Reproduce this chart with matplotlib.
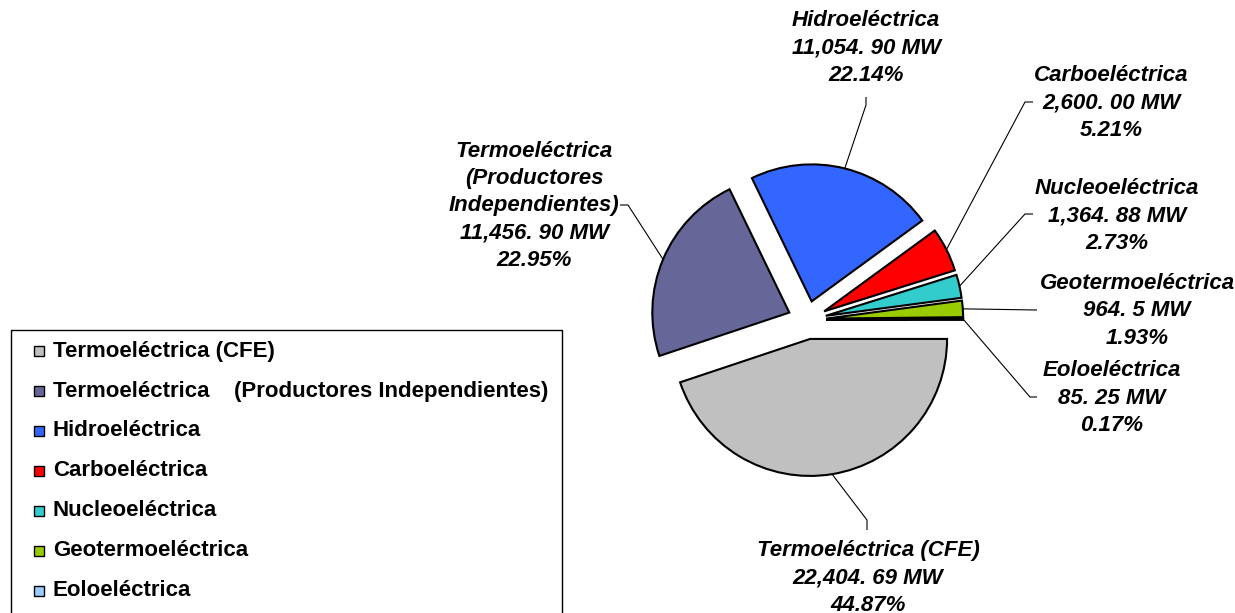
import numpy as np
import matplotlib
matplotlib.use('Agg')
import matplotlib.pyplot as plt
from matplotlib.patches import Rectangle

plt.rcParams['font.family'] = ['Liberation Sans', 'DejaVu Sans']

# data
names = ['Termoeléctrica (CFE)', 'Termoeléctrica    (Productores Independientes)',
         'Hidroeléctrica', 'Carboeléctrica', 'Nucleoeléctrica',
         'Geotermoeléctrica', 'Eoloeléctrica']
label_names = ['Termoeléctrica (CFE)', 'Termoeléctrica\n(Productores\nIndependientes)',
               'Hidroeléctrica', 'Carboeléctrica', 'Nucleoeléctrica',
               'Geotermoeléctrica', 'Eoloeléctrica']
mw = [22404.69, 11456.90, 11054.90, 2600.00, 1364.88, 964.5, 85.25]
mw_labels = ['22,404. 69 MW', '11,456. 90 MW', '11,054. 90 MW', '2,600. 00 MW',
             '1,364. 88 MW', '964. 5 MW', '85. 25 MW']
colors = ['#C0C0C0', '#666699', '#3366FF', '#FF0000', '#33CCCC', '#99CC00', '#99CCFF']
title = 'Capacidad efectiva por tipo de generación'

pct = np.array(mw) / np.sum(mw) * 100

W, H = 1235, 613
CX, CY, R = 807, 320, 137   # pie centre / radius in pixels (from top-left)

fig = plt.figure(figsize=(W / 100, H / 100), dpi=100)

# overlay axes in pixel coordinates
ov = fig.add_axes([0, 0, 1, 1])
ov.set_xlim(0, W)
ov.set_ylim(H, 0)
ov.axis('off')

L = 2.0
side = 2 * L * R
ax = fig.add_axes([(CX - side / 2) / W, (H - CY - side / 2) / H, side / W, side / H])
wedges, _ = ax.pie(mw, colors=colors, startangle=0, counterclock=False,
                   explode=[0.14] * len(mw), radius=1,
                   wedgeprops=dict(edgecolor='black', linewidth=1.5))
ax.set_xlim(-L, L)
ax.set_ylim(-L, L)
ax.set_aspect('equal')
ax.axis('off')

# label placement (pixels) and leader line bends
label_pos = [(868, 578), (534, 206), (866, 48), (1111, 103), (1117, 216), (1137, 311), (1112, 398)]
leader_pts = [
    [(867, 520), (867, 530)],
    [(628, 205), (620, 205)],
    [(866, 105), (866, 97)],
    [(1025, 102), (1033, 102)],
    [(1025, 214), (1033, 214)],
    [(1037, 310)],
    [(1030, 397), (1037, 397)],
]

for w, nm, mwl, p, pos, pts in zip(wedges, label_names, mw_labels, pct, label_pos, leader_pts):
    ang = np.deg2rad((w.theta1 + w.theta2) / 2)
    x0 = w.center[0] + w.r * np.cos(ang)
    y0 = w.center[1] + w.r * np.sin(ang)
    start = (CX + R * x0, CY - R * y0)
    xs = [start[0]] + [q[0] for q in pts]
    ys = [start[1]] + [q[1] for q in pts]
    ov.plot(xs, ys, color='black', lw=0.8, solid_capstyle='butt')
    ov.text(pos[0], pos[1], '{}\n{}\n{:.2f}%'.format(nm, mwl, p),
            ha='center', va='center', multialignment='center',
            fontsize=16, fontweight='bold', fontstyle='italic', linespacing=1.38)

# legend
ov.add_patch(Rectangle((11, 330), 551, 320, facecolor='white', edgecolor='black', lw=1, zorder=0))
for i, (nm, c) in enumerate(zip(names, colors)):
    y = 351 + 40 * i
    ov.add_patch(Rectangle((34, y - 5), 10, 10, facecolor=c, edgecolor='black', lw=1))
    ov.text(53, y, nm, ha='left', va='center', fontsize=16, fontweight='bold')

# title (cut off at the top edge, as in the original)
ov.text(617, -4.5, title, ha='center', va='baseline', fontsize=16, fontweight='bold')

fig.savefig('out.png', dpi=100)
